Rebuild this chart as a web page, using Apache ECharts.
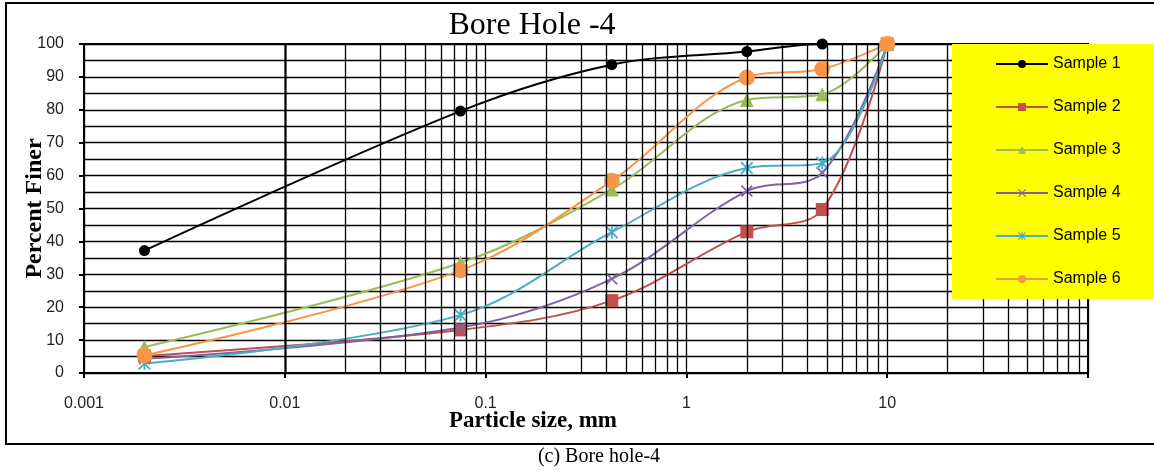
<!DOCTYPE html>
<html><head><meta charset="utf-8">
<script src="https://cdn.jsdelivr.net/npm/echarts@6/dist/echarts.min.js"></script>
<style>html,body{margin:0;padding:0;background:#fff}#c{width:1154px;height:471px}</style>
</head><body><div id="c"></div>
<script>
// ---- data ----
const particleSizes = [0.002, 0.075, 0.425, 2, 4.75, 10];
const sample1 = [37.2, 79.6, 93.7, 97.7, 100, 100];
const sample2 = [5.2, 13.1, 22, 42.9, 49.7, 100];
const sample3 = [7.9, 33.5, 55.8, 83, 84.7, 100];
const sample4 = [4.3, 13.8, 28.6, 55.3, 60.9, 100];
const sample5 = [2.9, 17.6, 42.8, 62.3, 63.8, 100];
const sample6 = [5.4, 31.2, 58.4, 89.8, 92.4, 100];
const seriesNames = ['Sample 1', 'Sample 2', 'Sample 3', 'Sample 4', 'Sample 5', 'Sample 6'];
const xTickLabels = ['0.001', '0.01', '0.1', '1', '10', ''];
const titleText = 'Bore Hole -4';
const captionText = '(c) Bore hole-4';
const xAxisTitle = 'Particle size, mm';
const yAxisTitle = 'Percent Finer';

// ---- styles ----
const colors = ['#000000', '#C0504D', '#9BBB59', '#8064A2', '#4BACC6', '#F79646'];
const xSym = 'path://M1,0L5,4L9,0L10,1L6,5L10,9L9,10L5,6L1,10L0,9L4,5L0,1Z';
const starSym = 'path://M1,0L5,4L9,0L10,1L6,5L10,9L9,10L5,6L1,10L0,9L4,5L0,1ZM4.3,0L5.7,0L5.7,10L4.3,10Z';
const symbols = ['circle', 'rect', 'triangle', xSym, starSym, 'circle'];
const symbolSizes = [11, 13, 14, 12, 13, 16];
const allValues = [sample1, sample2, sample3, sample4, sample5, sample6];

// minor log grid positions (2..9 within each decade)
const minorGrid = [];
[0.001, 0.01, 0.1, 1, 10].forEach(d => { for (let m = 2; m <= 9; m++) minorGrid.push({ xAxis: +(d * m).toPrecision(3) }); });

const series = allValues.map((vals, i) => ({
  name: seriesNames[i],
  type: 'line',
  data: particleSizes.map((x, j) => [x, vals[j]]),
  smooth: 0.35,
  symbol: symbols[i],
  symbolSize: symbolSizes[i],
  showAllSymbol: true,
  lineStyle: { width: 2, color: colors[i] },
  itemStyle: { color: colors[i] },
  z: 3
}));
series.unshift({
  name: 'grid', type: 'line', data: [], silent: true, z: 1,
  markLine: {
    silent: true, symbol: 'none', animation: false,
    label: { show: false },
    lineStyle: { color: '#000', width: 1.3, type: 'solid' },
    emphasis: { disabled: true },
    data: minorGrid
  }
});

const chart = echarts.init(document.getElementById('c'));
chart.setOption({
  animation: false,
  backgroundColor: '#fff',
  color: colors,
  grid: { left: 84, right: 66, top: 44, bottom: 98, show: true, borderColor: '#000', borderWidth: 2, containLabel: false },
  xAxis: {
    type: 'log', logBase: 10, min: 0.001, max: 100,
    name: xAxisTitle, nameLocation: 'middle', nameGap: 37, nameMoveOverlap: false,
    nameTextStyle: { fontFamily: 'Liberation Serif', fontWeight: 'bold', fontSize: 23, color: '#000', padding: [0, 106, 0, 0] },
    axisLine: { show: true, lineStyle: { color: '#000', width: 2 } },
    axisTick: { show: true, inside: false, length: 5, lineStyle: { color: '#000', width: 2 } },
    axisLabel: { margin: 23, fontFamily: 'Liberation Sans', fontSize: 16, color: '#222', formatter: (v, i) => xTickLabels[i] || '' },
    splitLine: { show: true, lineStyle: { color: '#000', width: 1.3 } },
    minorTick: { show: false }, minorSplitLine: { show: false }
  },
  yAxis: {
    type: 'value', min: 0, max: 100, interval: 10,
    name: yAxisTitle, nameLocation: 'middle', nameGap: 37, nameMoveOverlap: false,
    nameTextStyle: { fontFamily: 'Liberation Serif', fontWeight: 'bold', fontSize: 24, color: '#000' },
    axisLine: { show: true, lineStyle: { color: '#000', width: 2 } },
    axisTick: { show: true, inside: false, length: 5, lineStyle: { color: '#000', width: 2 } },
    axisLabel: { margin: 20, fontFamily: 'Liberation Sans', fontSize: 16, color: '#222' },
    splitLine: { show: true, lineStyle: { color: '#000', width: 1.3 } },
    minorTick: { show: false, splitNumber: 2 },
    minorSplitLine: { show: true, lineStyle: { color: '#000', width: 1.3 } }
  },
  legend: {
    data: seriesNames, orient: 'vertical', left: 995, top: 56, padding: 0,
    itemWidth: 52, itemHeight: 10, itemGap: 27,
    textStyle: { fontFamily: 'Liberation Sans', fontSize: 16, color: '#000', lineHeight: 16 },
    z: 110
  },
  graphic: {
    z: 100,
    elements: [
      { type: 'rect', z: 100, silent: true, shape: { x: 952, y: 44, width: 210, height: 255 }, style: { fill: '#FFFF00' } },
      { type: 'rect', z: 100, silent: true, shape: { x: 6, y: 3, width: 1170, height: 441 }, style: { fill: 'none', stroke: '#000', lineWidth: 2 } },
      { type: 'text', z: 100, x: 532, y: 26, style: { text: titleText, fontFamily: 'Liberation Serif', fontSize: 32, fill: '#000', textAlign: 'center', textVerticalAlign: 'middle' } },
      { type: 'text', z: 100, x: 599, y: 457, style: { text: captionText, fontFamily: 'Liberation Serif', fontSize: 20, fill: '#000', textAlign: 'center', textVerticalAlign: 'middle' } }
    ]
  },
  series: series
});
</script>
</body></html>
